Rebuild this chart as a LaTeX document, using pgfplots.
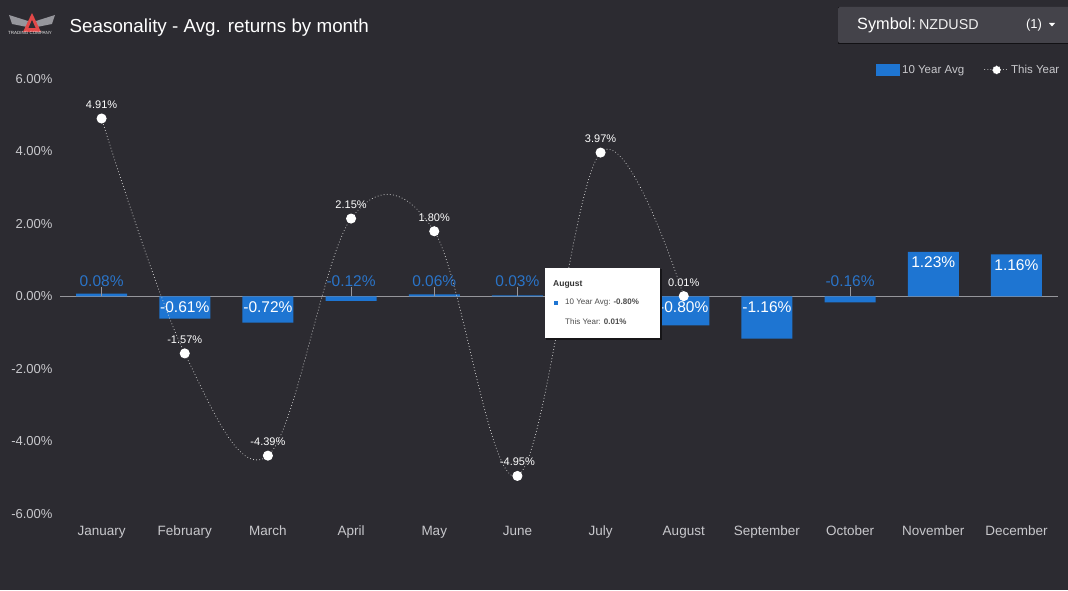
\documentclass[border=0pt]{standalone}
\usepackage{fontspec}
\setmainfont{Liberation Sans}
\usepackage{pgfplots}
\pgfplotsset{compat=1.18}
\usepackage{pgfplotstable}
\definecolor{bg}{RGB}{44,43,49}
\definecolor{barblue}{RGB}{30,117,210}
\definecolor{lblblue}{RGB}{42,116,200}
\definecolor{ticklbl}{RGB}{200,200,204}
\definecolor{boxgray}{RGB}{68,67,74}
\definecolor{zeroline}{RGB}{150,150,155}
\definecolor{dotline}{RGB}{205,205,205}
\definecolor{wing}{RGB}{150,150,156}
\definecolor{logored}{RGB}{226,72,72}

\pgfplotstableread{
x v
0 0.08
1 -0.61
2 -0.72
3 -0.12
4 0.06
5 0.03
6 0.45
7 -0.80
8 -1.16
9 -0.16
10 1.23
11 1.16
}\avgtable

\pgfplotstableread{
x v
0 4.91
1 -1.57
2 -4.39
3 2.15
4 1.80
5 -4.95
6 3.97
7 0.01
}\yeartable

\begin{document}
\begin{tikzpicture}[x=1pt,y=1pt]
\useasboundingbox (0,0) rectangle (1068,590);
\fill[bg] (0,0) rectangle (1068,590);

% logo
\fill[wing] (9,575) -- (28,569) -- (27,563) -- (12,566) -- cycle;
\fill[wing] (55,575) -- (36,569) -- (37,563) -- (52,566) -- cycle;
\fill[logored] (32,577) -- (23,558) -- (41,558) -- cycle;
\fill[bg] (32,570) -- (28.5,562) -- (35.5,562) -- cycle;
\node[text=white!80!gray, font=\fontsize{4.5}{5}\selectfont, inner sep=0pt] at (30,557) {TRADING COMPANY};

% title
\node[anchor=west, text=white, font=\fontsize{18.8}{21}\selectfont, inner sep=0pt] at (69.5,562) {Seasonality - Avg. returns by month};

% symbol box
\begin{scope}
\clip (0,0) rectangle (1068,590);
\fill[black!60!bg] (838,545.5) rectangle (1068,583);
\fill[boxgray, rounded corners=2pt] (838,547) rectangle (1075,583);
\end{scope}
\node[anchor=west, inner sep=0pt, text=white] at (857,565) {\fontsize{16.3}{18}\selectfont Symbol:\kern3pt\fontsize{14.3}{16}\selectfont\color{white!88!gray}NZDUSD};
\node[anchor=center, inner sep=0pt, text=white, font=\fontsize{13}{15}\selectfont] at (1034,565) {(1)};
\fill[white] (1049,567) -- (1055,567) -- (1052,563.5) -- cycle;

\begin{axis}[
  at={(60pt,76pt)}, anchor=south west,
  width=998pt, height=435pt, scale only axis,
  xmin=-0.5, xmax=11.5, ymin=-6, ymax=6,
  axis line style={draw=none}, major tick length=0pt,
  xtick={0,...,11},
  xticklabels={January,February,March,April,May,June,July,August,September,October,November,December},
  ytick={-6,-4,-2,0,2,4,6},
  yticklabels={-6.00\%,-4.00\%,-2.00\%,0.00\%,2.00\%,4.00\%,6.00\%},
  tick label style={text=ticklbl, font=\fontsize{13}{15}\selectfont},
  yticklabel style={xshift=-4pt},
  xticklabel style={anchor=base, yshift=-21pt, font=\fontsize{13.5}{15}\selectfont},
  extra y ticks={0}, extra y tick labels={},
  extra y tick style={grid=major, major grid style={zeroline, line width=1pt}},
  clip=false,
  legend columns=2,
  legend style={at={(1,1)}, anchor=east, yshift=9pt, xshift=3.5pt,
    draw=none, fill=none, inner sep=0pt,
    font=\fontsize{11.5}{13}\selectfont, text=ticklbl,
    /tikz/every even column/.append style={column sep=18pt}},
]
\addplot[ybar, bar width=51pt, bar shift=0pt, fill=barblue, draw=none,
  legend image code/.code={\fill[barblue] (0pt,-6pt) rectangle (24pt,6pt);}]
  table[x=x, y=v] {\avgtable};
\addlegendentry{10 Year Avg}

% labels of small bars (above the zero line, blue, with a short leader)
\addplot[draw=none, mark=none, forget plot, point meta=explicit,
  nodes near coords={\pgfmathprintnumber[fixed,fixed zerofill,precision=2,assume math mode=true]{\pgfplotspointmeta}\%\\[-7pt]{\color{zeroline}\rule{0.8pt}{9pt}}},
  every node near coord/.append style={text=lblblue, font=\fontsize{15.5}{17}\selectfont, anchor=south, align=center, yshift=0pt, inner sep=0pt}]
  coordinates {(0,0) [0.08] (3,0) [-0.12] (4,0) [0.06] (5,0) [0.03] (9,0) [-0.16]};

% labels of large negative bars (inside, under the zero line)
\addplot[draw=none, mark=none, forget plot, point meta=explicit,
  nodes near coords={\pgfmathprintnumber[fixed,fixed zerofill,precision=2,assume math mode=true]{\pgfplotspointmeta}\%},
  every node near coord/.append style={text=white, font=\fontsize{15.5}{17}\selectfont, anchor=north, yshift=-4pt, inner sep=1pt}]
  coordinates {(1,0) [-0.61] (2,0) [-0.72] (7,0) [-0.80] (8,0) [-1.16]};

% labels of large positive bars (inside, under the top)
\addplot[draw=none, mark=none, forget plot, point meta=explicit,
  nodes near coords={\pgfmathprintnumber[fixed,fixed zerofill,precision=2,assume math mode=true]{\pgfplotspointmeta}\%},
  every node near coord/.append style={text=white, font=\fontsize{15.5}{17}\selectfont, anchor=north, yshift=-4pt, inner sep=1pt}]
  coordinates {(10,1.23) [1.23] (11,1.16) [1.16]};

\addplot[dotline, line width=1pt, line cap=round, dash pattern=on 0.1pt off 3pt,
  smooth, tension=0.6, mark=*, mark size=4.5pt,
  mark options={solid, fill=white, draw=white},
  nodes near coords={\pgfmathprintnumber[fixed,fixed zerofill,precision=2,assume math mode=true]{\pgfplotspointmeta}\%},
  every node near coord/.append style={text=white, font=\fontsize{11}{13}\selectfont, anchor=south, yshift=6pt, solid},
  legend image code/.code={\draw[dotline, line width=1pt, line cap=round, dash pattern=on 0.1pt off 3pt] (0pt,0pt) -- (24pt,0pt);
    \fill[white] (12pt,0pt) circle (4pt);}]
  table[x=x, y=v] {\yeartable};
\addlegendentry{This Year}
\end{axis}

% tooltip
\fill[black!50!bg] (546,250.5) rectangle (661.5,321);
\fill[white] (545,252) rectangle (660,322);
\node[anchor=west, inner sep=0pt, text=black!80, font=\bfseries\fontsize{8.5}{10}\selectfont] at (553,306) {August};
\fill[barblue] (553.5,285) rectangle (557.5,289);
\node[anchor=west, inner sep=0pt, text=black!70, font=\fontsize{8}{10}\selectfont] at (565,287) {10 Year Avg: \textbf{-0.80\%}};
\node[anchor=west, inner sep=0pt, text=black!70, font=\fontsize{8}{10}\selectfont] at (565,268) {This Year: \textbf{0.01\%}};
\end{tikzpicture}
\end{document}
